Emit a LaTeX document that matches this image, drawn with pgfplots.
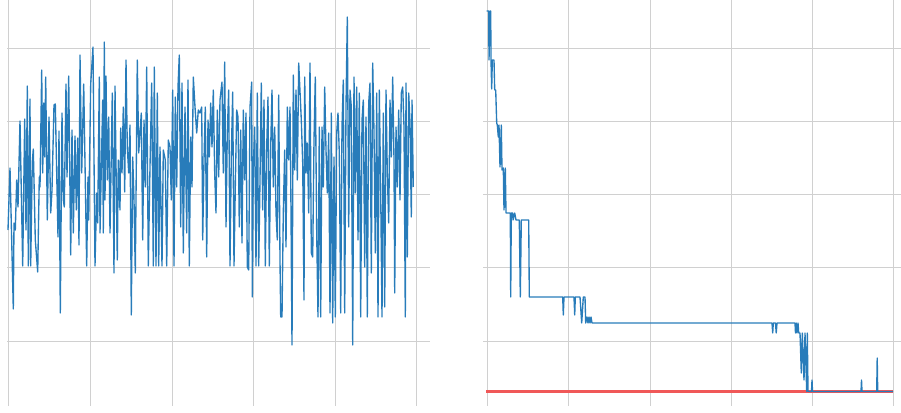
\documentclass[border=0pt]{standalone}
\usepackage{pgfplots}
\pgfplotsset{compat=1.18}
\definecolor{seriesblue}{RGB}{40,124,186}
\definecolor{gridgray}{RGB}{208,208,208}
\definecolor{optred}{RGB}{240,88,88}
\pgfplotsset{
  panel/.style={
    scale only axis, y dir=reverse,
    ymin=0, ymax=406, height=406pt,
    axis line style={draw=none},
    major tick length=0pt,
    xticklabels={,,,,,}, yticklabels={,,,,},
    grid=major,
    major grid style={gridgray, line width=0.9pt},
    ytick={48,121,194,267,341},
  },
  trace/.style={seriesblue, line width=1.35pt, line join=round, mark=none},
}
\begin{document}
\begin{tikzpicture}
\useasboundingbox (0,0) rectangle (901pt,412pt);
% sampled objective per evaluation
\begin{axis}[panel, at={(7pt,6pt)}, anchor=south west,
  width=423pt, xmin=7, xmax=430,
  xtick={8,90,172,253,335,416}]
\addplot[trace] coordinates {
(8,230) (10,168) (13.3,309) (14,223) (15.3,230) (16.7,180) (18,207) (20,121) (22.7,266) (24.7,119) (26,230) (27.3,86) (28.3,266) (30,99) (30.7,266) (32.3,162) (33.3,149) (35.3,240) (37.7,272) (39.3,177) (40,187) (41.7,70) (42.7,173) (43.7,103) (44.7,157) (45.7,77) (47.3,220) (49,117) (50.7,213) (52,190) (54,105) (55.3,104) (58,237) (59,131) (60.3,313) (62,113) (63.3,200) (64.3,207) (66,84) (67,177) (68.7,76) (70.7,255) (72,130) (73.3,233) (75,136) (76.3,210) (77.7,138) (79,245) (80,55) (81.7,173) (83.7,84) (86.7,266) (88,177) (88.7,220) (90.7,84) (93,47) (95,266) (96.7,193) (97.7,223) (99.3,77) (100,233)
(102.7,100) (103.3,233) (104.3,42) (105,200) (106,76) (107.3,180) (108.7,117) (110,233) (112.3,93) (114,273) (115,86) (116.7,217) (117.3,260) (118.3,160) (120,210) (120.7,128) (122,173) (123.3,107) (124.7,192) (126,60) (127.3,147) (128.7,173) (130,125) (131.3,315) (132.7,157) (134,200) (135.3,273) (137.3,60) (138.7,153) (140,133) (141.3,113) (142.7,240) (144,120) (145.3,187) (146.7,67) (148.3,266) (150,167) (151.7,83) (153.3,266) (154.3,67) (156,266) (157.3,93) (158.7,266) (160,147) (162,266) (163.3,150) (165.3,160) (166.7,266) (168.3,140) (170,147) (171.3,200) (172.7,90) (174,266) (175.3,97) (176.7,187) (178,87) (179.3,55) (180.7,227) (182,83) (183.3,253) (185,107) (186.7,233) (188,80) (189.3,266) (190.7,137) (192,187) (193.3,77) (195,107) (196.7,133) (198.3,110)
(200,113) (201.7,107) (202.7,240) (204,160) (205.3,107) (206.7,257) (208,120) (209.3,157) (210.7,103) (212,147) (213.3,90) (214.7,173) (216,213) (217.3,110) (218.7,177) (220,100) (222,82) (223.3,173) (224.7,62) (226,227) (227.3,133) (228.7,90) (230,266) (231.3,157) (232.7,92) (234,266) (235.3,187) (236.7,110) (238,117) (239.3,227) (240.7,130) (242,243) (243.3,110) (244.7,180) (246,113) (247.3,267) (248.7,270) (250,107) (251.7,82) (252.3,297) (253.3,167) (254.7,127) (256,266) (257.3,93) (258.7,266) (260,180) (261.3,83) (262.7,210) (264,100) (265.3,266) (266.7,147) (268,97) (269.3,266) (270.7,147) (272,90) (273.3,187) (274.7,127) (276,213) (277.3,240) (278.7,95) (280,260) (280.7,317) (282,317) (283.3,213) (284.7,150) (286,247) (287.3,107) (288.7,160) (290,107) (290.7,173) (292,345) (293.3,75) (294.7,170) (296,90) (297.3,180) (298.7,63)
(301.3,120) (302.7,163) (304,300) (304.7,77) (306,173) (307.3,143) (308.7,213) (310,63) (311.3,253) (312.7,257) (314,140) (315.3,77) (316.7,233) (318,317) (319.3,127) (320.7,317) (322,127) (323.3,187) (324.7,87) (326,150) (327.3,193) (328.7,133) (330,313) (331.3,113) (332.7,323) (334,157) (335.3,317) (336.7,133) (338,113) (339.3,153) (340.7,313) (342,127) (343.3,80) (344.7,313) (346,107) (347.3,17) (348.7,227) (350,90) (351.3,107) (352.7,345) (354,77) (355.3,193) (356.7,87) (358,240) (359.3,93) (360.7,317) (362,120) (363.3,100) (364.7,267) (366,117) (367.3,317) (368.7,103) (370,83) (371.3,273) (372.7,63) (374,133) (375.3,253) (376.7,93) (378,317) (379.3,90) (380.7,193) (382,317) (383.3,113) (384.7,307) (386,90) (387.3,173) (388.7,223) (390,100) (391.3,157) (392.7,77) (394,160) (394.7,293) (396,127) (397.3,187) (398.7,110) (400,200) (401.3,93) (402.7,87) (404,127) (405.3,317) (406,83) (407.3,257) (408.7,93) (410,123) (411.3,217) (412,100) (413.3,187)
};
\end{axis}
% best value found so far, with the known optimum
\begin{axis}[panel, at={(483pt,6pt)}, anchor=south west,
  width=418pt, xmin=483, xmax=901,
  xtick={487,568,650,731,812,893}]
\addplot[optred, line width=2.2pt, mark=none] coordinates {(486,391.5) (893,391.5)};
\addplot[trace] coordinates {
(486.7,11) (488.7,11) (489,60) (490,11) (490.7,11) (491,60) (491.7,89) (492.3,60) (494,60) (494.7,90) (495.7,90) (496.7,123) (497.3,125) (498.3,137) (499,125) (500,167) (501.3,125) (502,170) (503.3,168) (504,210) (505.3,168) (506,213) (510.3,213) (510.7,297) (511.3,213) (512.7,213) (513,220) (514.7,213) (516,220) (519.3,220) (520.3,297) (521.3,220) (528.7,220) (529.3,297) (562.7,297) (563.3,315) (564,297) (574,297) (574.7,315) (575.3,297) (580,297) (581.7,323) (583.3,297) (585,297) (585.7,323) (587,317) (588,323) (589,317) (590,323) (591,317) (592,323) (772,323) (772.7,333) (773.3,323) (775.5,323) (776.2,333) (777,323) (795,323) (795.5,333) (796.2,323) (797,333) (798,323) (798.7,333) (800,333) (801.3,373) (802.3,333) (804,380) (805,333) (806.7,391.5) (807.3,333) (808,391.5) (811.5,391.5) (812,380) (812.5,391.5) (861,391.5) (861.5,380) (862,391.5) (876.7,391.5) (877.2,358) (877.7,391.5) (893,391.5)
};
\end{axis}
\end{tikzpicture}
\end{document}
